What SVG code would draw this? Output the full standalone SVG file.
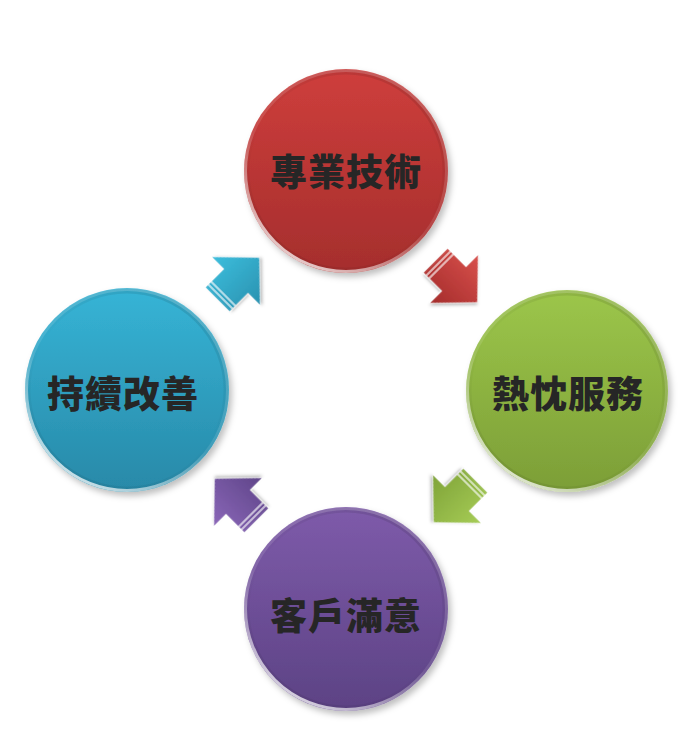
<svg xmlns="http://www.w3.org/2000/svg" width="693" height="736" viewBox="0 0 693 736">
<defs>
<filter id="sh" x="-20%" y="-20%" width="140%" height="140%"><feDropShadow dx="3" dy="4" stdDeviation="3" flood-color="#000" flood-opacity="0.25"/></filter>
<filter id="sh2" x="-30%" y="-30%" width="160%" height="160%"><feDropShadow dx="1.5" dy="2" stdDeviation="1.5" flood-color="#000" flood-opacity="0.25"/></filter>
<linearGradient id="gRed" x1="0" y1="0" x2="0" y2="1"><stop offset="0" stop-color="#CE3E3C"/><stop offset="1" stop-color="#A52E2D"/></linearGradient>
<linearGradient id="gGreen" x1="0" y1="0" x2="0" y2="1"><stop offset="0" stop-color="#9CC64A"/><stop offset="1" stop-color="#7C9E37"/></linearGradient>
<linearGradient id="gCyan" x1="0" y1="0" x2="0" y2="1"><stop offset="0" stop-color="#36B4D6"/><stop offset="1" stop-color="#2889A8"/></linearGradient>
<linearGradient id="gPurple" x1="0" y1="0" x2="0" y2="1"><stop offset="0" stop-color="#7E5BAA"/><stop offset="1" stop-color="#5C4284"/></linearGradient>
<linearGradient id="rim" x1="0.2" y1="1" x2="0.8" y2="0"><stop offset="0" stop-color="#fff" stop-opacity="0.85"/><stop offset="0.45" stop-color="#fff" stop-opacity="0.1"/><stop offset="1" stop-color="#fff" stop-opacity="0.2"/></linearGradient>
<linearGradient id="rimIn" x1="0.8" y1="0" x2="0.2" y2="1"><stop offset="0" stop-color="#000" stop-opacity="0.12"/><stop offset="0.5" stop-color="#000" stop-opacity="0"/><stop offset="1" stop-color="#000" stop-opacity="0.08"/></linearGradient>
<linearGradient id="aRed" x1="0" y1="0" x2="0" y2="1"><stop offset="0" stop-color="#D8504C"/><stop offset="1" stop-color="#A42C2B"/></linearGradient>
<linearGradient id="aGreen" x1="0" y1="0" x2="0" y2="1"><stop offset="0" stop-color="#A6CC56"/><stop offset="1" stop-color="#7FA338"/></linearGradient>
<linearGradient id="aCyan" x1="0" y1="0" x2="0" y2="1"><stop offset="0" stop-color="#3CBEDD"/><stop offset="1" stop-color="#2A92B0"/></linearGradient>
<linearGradient id="aPurple" x1="0" y1="0" x2="0" y2="1"><stop offset="0" stop-color="#8A66B8"/><stop offset="1" stop-color="#5F4589"/></linearGradient>
<path id="arr" d="M-26,-17 L0,-17 L0,-34 L33,0 L0,34 L0,17 L-26,17 Z"/>
</defs>
<style>
.lbl{font-family:"Noto Sans CJK TC","Noto Sans CJK SC",sans-serif;font-weight:900;font-size:37px;fill:#262626;text-anchor:middle;dominant-baseline:central;letter-spacing:1px}
.rim{fill:none;stroke:url(#rim);stroke-width:3}
.rimIn{fill:none;stroke:url(#rimIn);stroke-width:5}
.stripe{stroke:#fff;stroke-opacity:0.8;stroke-width:1.5}
.edge{stroke:#fff;stroke-opacity:0.35;stroke-width:1}
</style>
<rect width="693" height="736" fill="#fff"/>
<g id="connectors">
<g transform="translate(454,279) rotate(45)" filter="url(#sh2)"><use href="#arr" fill="url(#aRed)" class="edge"/><line x1="-22" y1="-17" x2="-22" y2="17" class="stripe"/><line x1="-18" y1="-17" x2="-18" y2="17" class="stripe"/></g>
<g transform="translate(457,499) rotate(135)" filter="url(#sh2)"><use href="#arr" fill="url(#aGreen)" class="edge"/><line x1="-22" y1="-17" x2="-22" y2="17" class="stripe"/><line x1="-18" y1="-17" x2="-18" y2="17" class="stripe"/></g>
<g transform="translate(238,502) rotate(225)" filter="url(#sh2)"><use href="#arr" fill="url(#aPurple)" class="edge"/><line x1="-22" y1="-17" x2="-22" y2="17" class="stripe"/><line x1="-18" y1="-17" x2="-18" y2="17" class="stripe"/></g>
<g transform="translate(236,281) rotate(-45)" filter="url(#sh2)"><use href="#arr" fill="url(#aCyan)" class="edge"/><line x1="-22" y1="-17" x2="-22" y2="17" class="stripe"/><line x1="-18" y1="-17" x2="-18" y2="17" class="stripe"/></g>
</g>
<g id="node-tech">
<circle cx="346" cy="171" r="102" fill="url(#gRed)" filter="url(#sh)"/>
<circle cx="346" cy="171" r="99" class="rimIn"/>
<circle cx="346" cy="171" r="100.5" class="rim"/>
<text x="346" y="170" class="lbl">專業技術</text>
</g>
<g id="node-service">
<circle cx="567" cy="391" r="101" fill="url(#gGreen)" filter="url(#sh)"/>
<circle cx="567" cy="391" r="98" class="rimIn"/>
<circle cx="567" cy="391" r="99.5" class="rim"/>
<text x="568" y="392" class="lbl">熱忱服務</text>
</g>
<g id="node-satisfaction">
<circle cx="346" cy="609" r="102" fill="url(#gPurple)" filter="url(#sh)"/>
<circle cx="346" cy="609" r="99" class="rimIn"/>
<circle cx="346" cy="609" r="100.5" class="rim"/>
<text x="346" y="614" class="lbl">客戶滿意</text>
</g>
<g id="node-improve">
<circle cx="127" cy="390" r="102" fill="url(#gCyan)" filter="url(#sh)"/>
<circle cx="127" cy="390" r="99" class="rimIn"/>
<circle cx="127" cy="390" r="100.5" class="rim"/>
<text x="123" y="392" class="lbl">持續改善</text>
</g>
</svg>
